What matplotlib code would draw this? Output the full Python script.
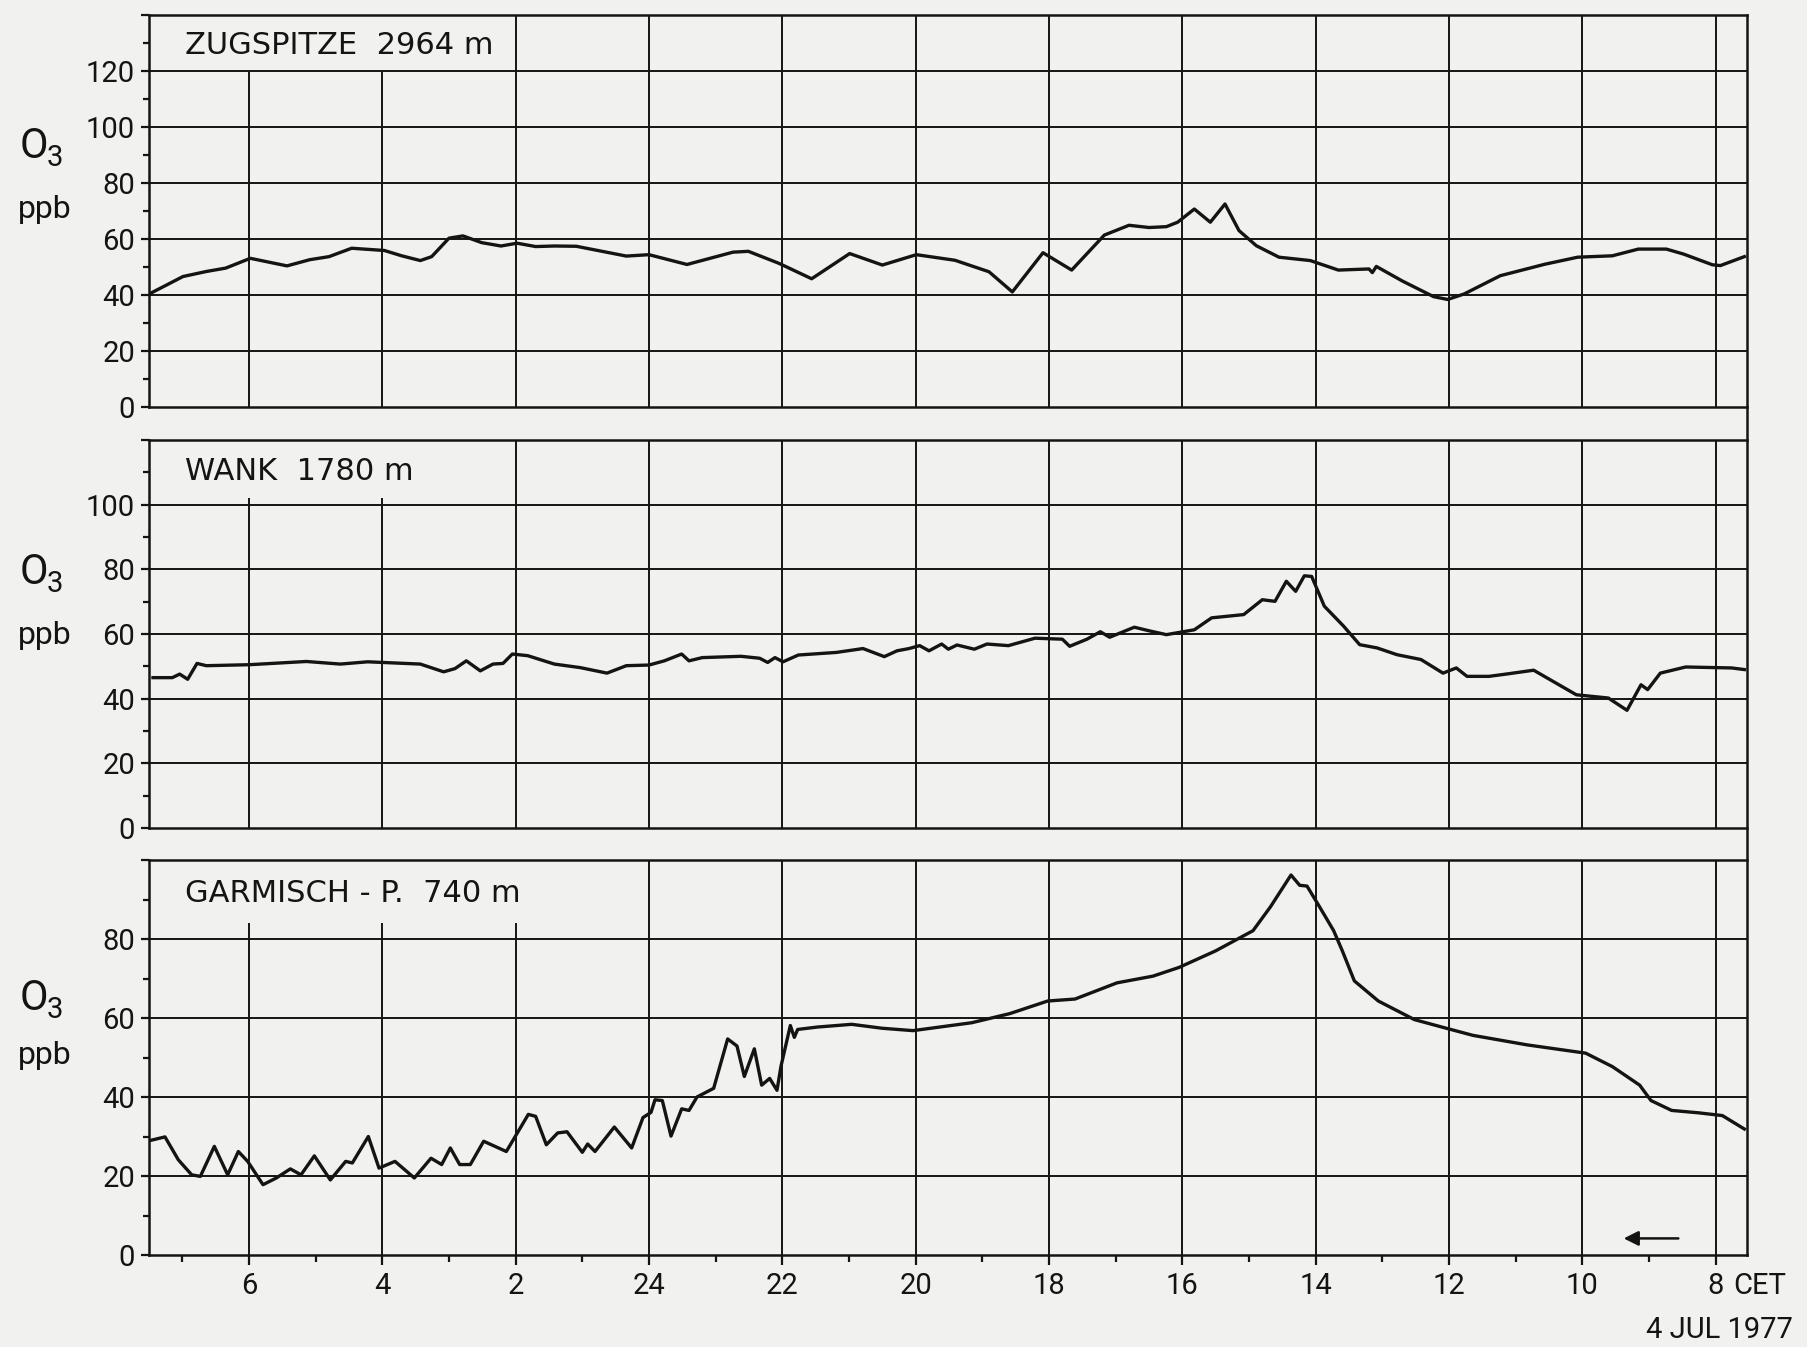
import matplotlib.pyplot as plt
from matplotlib.lines import Line2D

plt.rcParams['font.family'] = ['Roboto', 'DejaVu Sans']

# hours after 08 CET, 4 JUL 1977 (time runs right -> left)
zug_t = [23.47, 22.99, 22.64, 22.35, 21.98, 21.43, 21.09, 20.80, 20.46, 19.97, 19.71, 19.43,
         19.26, 19.00, 18.79, 18.51, 18.22, 17.98, 17.70, 17.42, 17.09, 16.34, 16.00, 15.43,
         14.74, 14.51, 14.05, 13.56, 12.99, 12.50, 11.99, 11.41, 10.90, 10.55, 10.09, 9.66,
         9.17, 8.80, 8.50, 8.24, 8.07, 7.82, 7.58, 7.36, 7.15, 6.89, 6.55, 6.08, 5.66, 5.20,
         5.15, 5.09, 4.70, 4.23, 4.02, 3.77, 3.23, 2.56, 2.07, 1.55, 1.16, 0.74, 0.48, 0.05,
         -0.07, -0.43]
zug_o3 = [40.7, 46.6, 48.4, 49.6, 53.1, 50.4, 52.6, 53.7, 56.7, 55.9, 54.0, 52.3,
          53.7, 60.3, 61.1, 58.7, 57.5, 58.5, 57.3, 57.5, 57.4, 53.9, 54.4, 50.9,
          55.3, 55.6, 51.3, 45.8, 54.8, 50.7, 54.4, 52.4, 48.3, 41.1, 55.1, 48.9,
          61.4, 64.9, 64.1, 64.4, 66.0, 70.7, 66.0, 72.5, 63.0, 57.6, 53.5, 52.3, 48.9, 49.3,
          48.0, 50.2, 45.0, 39.4, 38.4, 40.4, 46.9, 51.0, 53.5, 54.0, 56.4, 56.4, 54.6, 50.8,
          50.5, 53.7]

wank_t = [23.44, 23.15, 23.04, 22.92, 22.78, 22.64, 22.00, 21.14, 20.63, 20.22, 19.43, 19.08,
          18.91, 18.74, 18.53, 18.34, 18.19, 18.05, 17.82, 17.42, 17.03, 16.63, 16.34, 16.00,
          15.77, 15.51, 15.40, 15.20, 14.62, 14.34, 14.22, 14.11, 13.99, 13.76, 13.19, 12.79,
          12.47, 12.28, 12.10, 11.94, 11.80, 11.61, 11.51, 11.38, 11.12, 10.93, 10.61, 10.21,
          9.80, 9.69, 9.43, 9.23, 9.09, 8.72, 8.50, 8.24, 7.82, 7.56, 7.08, 6.80, 6.61, 6.44,
          6.30, 6.17, 6.06, 5.87, 5.58, 5.34, 5.08, 4.78, 4.42, 4.09, 3.89, 3.73, 3.40, 3.11,
          2.73, 2.09, 1.61, 1.33, 1.12, 1.02, 0.83, 0.45, -0.24, -0.43]
wank_o3 = [46.5, 46.5, 47.6, 46.0, 50.9, 50.2, 50.5, 51.5, 50.7, 51.4, 50.7, 48.3,
           49.3, 51.7, 48.6, 50.7, 50.9, 53.8, 53.3, 50.7, 49.6, 47.9, 50.2, 50.4,
           51.7, 53.8, 51.7, 52.7, 53.1, 52.5, 51.2, 52.7, 51.4, 53.5, 54.3, 55.5,
           53.0, 54.8, 55.5, 56.4, 54.8, 56.9, 55.3, 56.6, 55.3, 56.9, 56.4, 58.7,
           58.4, 56.2, 58.4, 60.7, 59.0, 62.1, 61.0, 59.8, 61.3, 65.0, 66.0, 70.6, 70.1, 76.3,
           73.2, 78.0, 77.8, 68.6, 62.4, 56.7, 55.7, 53.6, 52.1, 47.9, 49.5, 46.9, 46.9, 47.7,
           48.8, 41.2, 40.2, 36.4, 44.3, 42.8, 47.9, 49.8, 49.5, 49.0]

gap_t = [23.53, 23.26, 23.06, 22.86, 22.73, 22.52, 22.32, 22.16, 22.02, 21.79, 21.59, 21.38,
         21.22, 21.02, 20.78, 20.55, 20.45, 20.21, 20.05, 19.81, 19.52, 19.27, 19.11, 18.98,
         18.84, 18.68, 18.48, 18.14, 17.81, 17.70, 17.54, 17.37, 17.23, 17.00, 16.92, 16.81,
         16.52, 16.26, 16.09, 15.97, 15.91, 15.80, 15.67, 15.51, 15.40, 15.28, 15.03, 14.82,
         14.68, 14.57, 14.42, 14.31, 14.19, 14.08, 14.02, 13.88, 13.82, 13.77, 13.48, 12.96,
         12.50, 12.04, 11.16, 10.59, 10.02, 9.61, 8.98, 8.44, 8.05, 7.50, 6.94, 6.68, 6.37,
         6.24, 6.13, 5.94, 5.73, 5.60, 5.42, 5.06, 4.52, 4.04, 3.64, 2.83, 1.95, 1.55, 1.14,
         0.97, 0.66, 0.26, -0.10, -0.43]
gap_o3 = [28.8, 29.9, 24.1, 20.3, 19.9, 27.5, 20.3, 26.2, 23.7, 17.8, 19.5, 21.8,
          20.3, 25.1, 19.0, 23.7, 23.3, 30.0, 22.0, 23.7, 19.5, 24.5, 22.9, 27.1,
          22.9, 22.9, 28.8, 26.2, 35.6, 35.1, 27.9, 30.9, 31.2, 26.0, 28.1, 26.2,
          32.4, 27.1, 34.8, 36.1, 39.3, 39.1, 30.1, 37.0, 36.6, 40.0, 42.2, 54.7,
          52.9, 45.2, 52.2, 43.0, 44.7, 41.7, 47.8, 58.1, 55.1, 57.1, 57.7, 58.4,
          57.4, 56.8, 58.8, 61.1, 64.3, 64.8, 68.9, 70.6, 72.8, 77.0, 82.1, 88.1, 96.2,
          93.6, 93.4, 88.1, 82.1, 77.0, 69.4, 64.3, 59.6, 57.4, 55.6, 53.2, 51.1, 47.7, 43.0,
          39.1, 36.6, 36.0, 35.3, 31.9]

stations = ['ZUGSPITZE  2964 m', 'WANK  1780 m', 'GARMISCH - P.  740 m']
tick_hours = [0, 2, 4, 6, 8, 10, 12, 14, 16, 18, 20, 22]
tick_labels = ['8', '10', '12', '14', '16', '18', '20', '22', '24', '2', '4', '6']

W, H = 1807, 1347
bg = '#f1f1ef'
ink = '#141414'

fig = plt.figure(figsize=(W / 100, H / 100), dpi=100, facecolor=bg)

x_left, x_right = 149 / W, 1747 / W
# (bottom px, top px) of each panel, y max, top of the short grid lines, how many are short
panels = [
    (407, 15, 140, 120, 2),
    (828, 440, 120, 102, 2),
    (1255, 860, 100, 84, 3),
]
series = [(zug_t, zug_o3), (wank_t, wank_o3), (gap_t, gap_o3)]
label_y = [46, 472, 893]
o_y = [146, 572, 998]
ppb_y = [210, 635, 1056]

for i, ((pb, pt, ymax, short_top, n_short), (t, v)) in enumerate(zip(panels, series)):
    ax = fig.add_axes([x_left, 1 - pb / H, x_right - x_left, (pb - pt) / H])
    ax.set_facecolor(bg)
    ax.set_xlim(23.5, -0.47)
    ax.set_ylim(0, ymax)

    for s in ['left', 'top', 'bottom']:
        ax.spines[s].set_color(ink)
        ax.spines[s].set_linewidth(1.8)
    ax.spines['right'].set_visible(False)

    # grid
    ax.hlines(range(20, ymax, 20), 23.5, -0.47, color=ink, lw=1.4)
    for h in tick_hours:
        top = short_top if h >= 24 - 2 * n_short else ymax
        ax.vlines(h, 0, top, color=ink, lw=1.4)

    ax.plot(t, v, color=ink, lw=2.4, solid_joinstyle='round')

    major = list(range(0, ymax + 1, 20))
    ax.set_yticks(major)
    ax.set_yticklabels([str(m) if m < ymax else '' for m in major])
    ax.set_yticks(range(10, ymax, 20), minor=True)
    ax.tick_params(axis='y', which='major', direction='out', length=6, width=1.6,
                   pad=4, labelsize=21, colors=ink)
    ax.tick_params(axis='y', which='minor', direction='out', length=4, width=1.6, colors=ink)

    ax.text(0.0225, (pb - label_y[i]) / (pb - pt), stations[i], family='DejaVu Sans',
            transform=ax.transAxes, ha='left', va='center', fontsize=22, color=ink)

    fig.text(34 / W, 1 - o_y[i] / H, 'O', fontsize=30, ha='center', va='center', color=ink)
    fig.text(55 / W, 1 - (o_y[i] + 12) / H, '3', fontsize=21, ha='center', va='center', color=ink)
    fig.text(45 / W, 1 - ppb_y[i] / H, 'ppb', fontsize=23, ha='center', va='center', color=ink)

    if i < 2:
        ax.tick_params(axis='x', which='both', bottom=False, labelbottom=False)
    else:
        ax.set_xticks(tick_hours)
        ax.set_xticklabels(tick_labels)
        ax.set_xticks([h + 1 for h in tick_hours], minor=True)
        ax.tick_params(axis='x', which='major', direction='out', length=7, width=1.6,
                       pad=5, labelsize=21, colors=ink)
        ax.tick_params(axis='x', which='minor', direction='out', length=5, width=1.6, colors=ink)
        ax.annotate('CET', xy=(0, 0), xycoords=('data', 'axes fraction'),
                    xytext=(13, -12), textcoords='offset points',
                    ha='left', va='top', fontsize=21, color=ink)
        ax.annotate('', xy=(1.38, 4.2), xytext=(0.56, 4.2),
                    arrowprops=dict(arrowstyle='-|>', color=ink, lw=1.8,
                                    mutation_scale=22, shrinkA=0, shrinkB=0))

# continuous right frame line through all three panels
fig.add_artist(Line2D([x_right, x_right], [1 - 1255 / H, 1 - 15 / H],
                      transform=fig.transFigure, color=ink, lw=1.8))

fig.text(1793 / W, 1 - 1330 / H, '4 JUL 1977', ha='right', va='center',
         fontsize=21, color=ink)

fig.savefig('out.png', dpi=100, facecolor=bg)
